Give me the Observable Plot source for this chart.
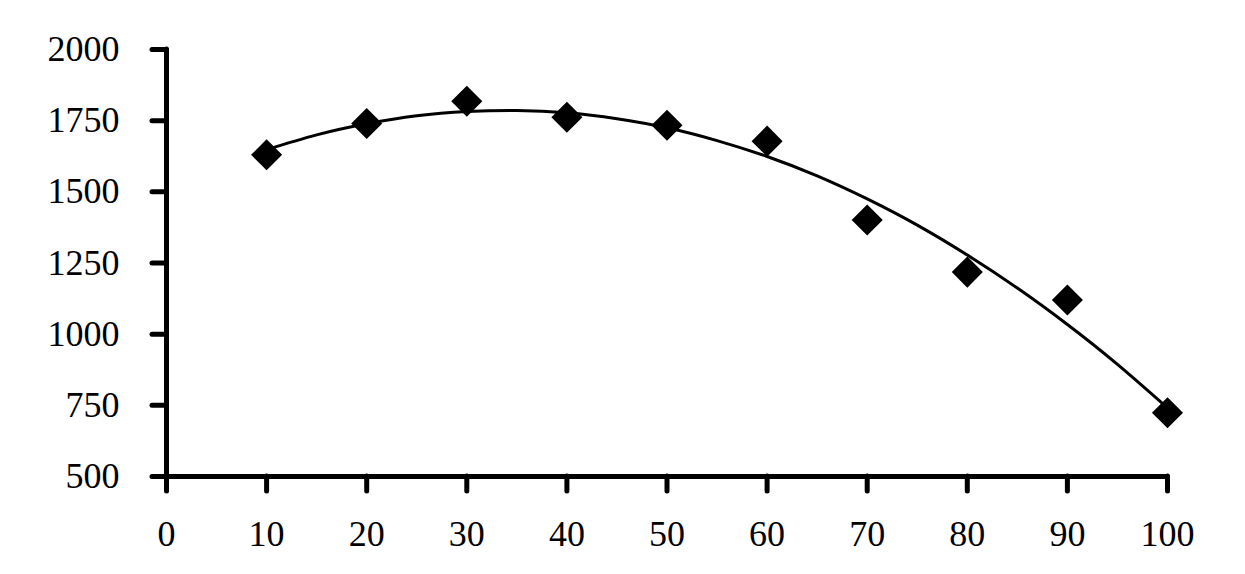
<!DOCTYPE html>
<html>
<head>
<meta charset="utf-8">
<script src="https://cdn.jsdelivr.net/npm/d3@7"></script>
<script src="https://cdn.jsdelivr.net/npm/@observablehq/plot@0.6"></script>
<style>
  html, body { margin: 0; padding: 0; background: #fff; }
  #chart svg { display: block; }
</style>
</head>
<body>
<div id="chart"></div>
<script>
// Observed points
const xValues = [10, 20, 30, 40, 50, 60, 70, 80, 90, 100];
const yValues = [1630, 1740, 1818, 1762, 1734, 1678, 1401, 1218, 1120, 724];

// Trend curve
const trendX = [10, 15, 20, 25, 30, 35, 40, 45, 50, 55, 60, 65, 70, 75, 80, 85, 90, 95, 100];
const trendY = [1648, 1700, 1739, 1767, 1782, 1786, 1778, 1757, 1725, 1680, 1624, 1556, 1475, 1383, 1278, 1162, 1034, 894, 741];

// Tick labels
const xTicks = [0, 10, 20, 30, 40, 50, 60, 70, 80, 90, 100];
const yTicks = [500, 750, 1000, 1250, 1500, 1750, 2000];

const points = xValues.map((x, i) => ({x, y: yValues[i]}));
const trend = trendX.map((x, i) => ({x, y: trendY[i]}));

const chart = Plot.plot({
  width: 1245,
  height: 574,
  marginLeft: 166,
  marginRight: 78,
  marginTop: 49,
  marginBottom: 98,
  style: {fontFamily: "'Liberation Serif', 'Times New Roman', serif", fontSize: "36px", color: "#000", background: "#fff"},
  x: {domain: [0, 100]},
  y: {domain: [500, 2000]},
  marks: [
    Plot.axisY({ticks: yTicks, tickSize: 14, tickPadding: 33, stroke: "#000", strokeWidth: 5, strokeLinecap: "round", fontSize: 36, label: null, tickFormat: d => String(d)}),
    Plot.axisX({ticks: xTicks, tickSize: 15, tickPadding: 29, stroke: "#000", strokeWidth: 5, strokeLinecap: "round", fontSize: 36, label: null, tickFormat: d => String(d)}),
    Plot.ruleX([0], {y1: 500, y2: 2000, stroke: "#000", strokeWidth: 5, strokeLinecap: "round"}),
    Plot.ruleY([500], {x1: 0, x2: 100, stroke: "#000", strokeWidth: 5, strokeLinecap: "round"}),
    Plot.line(trend, {x: "x", y: "y", curve: "natural", stroke: "#000", strokeWidth: 3}),
    Plot.dot(points, {x: "x", y: "y", symbol: "diamond2", r: 14, fill: "#000", stroke: "none"})
  ]
});
document.getElementById("chart").appendChild(chart);
</script>
</body>
</html>
